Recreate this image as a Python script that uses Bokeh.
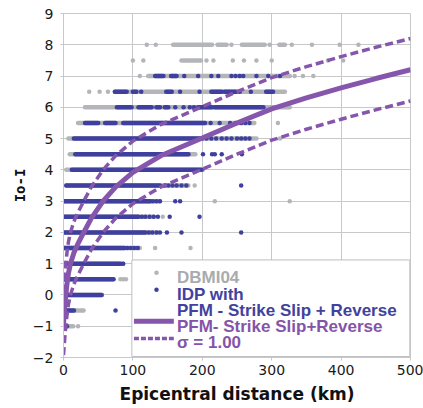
from bokeh.plotting import figure
from bokeh.models import Range1d, FixedTicker
from bokeh.core.properties import value
from bokeh.embed import file_html
from bokeh.resources import INLINE

# ---------------- data ----------------
# DBMI04 observations (grey): dense runs per intensity level + isolated points
gray_run_y  = [8, 8, 8, 8, 7.5, 7, 6.5, 6, 5.5, 5, 4.5, 4, 3.5, 3, 2.5, 2, 1.5, 1, 0.5, 0, -0.5, -1]
gray_run_x0 = [158, 222, 257, 311, 170, 122, 74, 31, 21, 7, 9, 4, 4, 0, 0, 0, 0, 0, 0, 0, 0, 0]
gray_run_x1 = [214, 235, 290, 319, 198, 326, 319, 326, 275, 275, 190, 201, 180, 139, 130, 135, 110, 86, 72, 55, 29, 14]

gray_pt_x = [120, 133, 242, 297, 329, 358, 398, 425,
             100, 115, 206, 216, 244, 260, 278, 300, 381, 403,
             110, 333, 345, 360,
             37, 52, 64,
             309,
             278, 312,
             189,
             218, 326,
             143,
             132, 183,
             82, 86, 90,
             21]
gray_pt_y = [8] * 8 + [7.5] * 10 + [7] * 4 + [6.5] * 3 + [5.5] + [5] * 2 + [3.5] + [3] * 2 + [2.5] + [1.5] * 2 + [0.5] * 3 + [-1]

# IDP with PFM (blue)
blue_run_y  = [7, 7, 6.5, 6.5, 6.5, 6.5, 6.5, 6.5, 6, 6, 6, 6, 6, 6, 5.5, 5.5, 5.5,
               5, 4.5, 4, 3.5, 3, 2.5, 2, 1.5, 1, 0.5, 0, -0.5]
blue_run_x0 = [132, 155, 74, 100, 148, 213, 232, 292, 77, 108, 134, 146, 194, 218, 31, 60, 86,
               15, 17, 12, 4, 0, 0, 0, 0, 0, 0, 0, 0]
blue_run_x1 = [144, 163, 91, 105, 156, 228, 249, 302, 98, 127, 139, 151, 214, 288, 50, 75, 204,
               200, 180, 199, 139, 125, 108, 118, 88, 82, 72, 55, 15]

blue_pt_x = [174, 194, 213, 223, 242, 248, 254, 259, 278, 295, 312,
             112, 168, 196, 254, 270,
             161, 173, 182, 188,
             212, 225, 240, 248, 256, 262, 268,
             206, 213, 220, 228, 235, 242, 250, 256, 262, 268,
             201, 214, 218, 228, 257,
             146, 151, 157, 163, 170, 177, 256,
             129, 134, 139, 161, 168,
             113, 118, 124, 130, 136, 153, 196,
             123, 128, 134, 139, 149, 170, 256,
             92, 97, 102, 107,
             86,
             75,
             2, 5]
blue_pt_y = ([7] * 11 + [6.5] * 5 + [6] * 4 + [5.5] * 7 + [5] * 10 + [4.5] * 5 + [3.5] * 7
             + [3] * 5 + [2.5] * 7 + [2] * 7 + [1.5] * 4 + [1] + [-0.5] + [-1] * 2)

# PFM - Strike Slip + Reverse attenuation curve and sigma
pfm_dist  = [0, 1, 2, 3, 5, 7, 10, 15, 20, 28, 40, 57, 75, 100, 140, 200, 250, 300, 350, 400, 450, 500]
pfm_value = [-0.92, -0.62, -0.33, -0.08, 0.35, 0.68, 1.0, 1.35, 1.6, 1.95, 2.45, 3.0, 3.45, 3.92,
             4.45, 5.02, 5.5, 5.95, 6.3, 6.62, 6.92, 7.2]
sigma = 1.00
pfm_upper = [v + sigma for v in pfm_value]
pfm_lower = [v - sigma for v in pfm_value]

x_ticks = [0, 100, 200, 300, 400, 500]
y_ticks = [-2, -1, 0, 1, 2, 3, 4, 5, 6, 7, 8, 9]

x_title = "Epicentral distance (km)"
y_title = "Io-I"
legend_labels = ["DBMI04", "IDP with", "PFM - Strike Slip + Reverse", "PFM- Strike Slip+Reverse", "\u03c3 = 1.00"]

# ---------------- styling ----------------
GRAY = "#b3b5b9"
BLUE = "#3f3f9f"
PURPLE = "#8656ac"
GRID = "#c6c8ca"

p = figure(width=423, height=408, output_backend="svg", toolbar_location=None,
           x_range=Range1d(0, 500), y_range=Range1d(-2, 9),
           min_border_left=63, min_border_right=13, min_border_top=13, min_border_bottom=51)
p.background_fill_color = "white"
p.border_fill_color = "white"
p.outline_line_color = GRID
p.outline_line_width = 1

p.xaxis.ticker = FixedTicker(ticks=x_ticks)
p.yaxis.ticker = FixedTicker(ticks=y_ticks)
for ax in (p.xaxis, p.yaxis):
    ax.axis_line_color = GRID
    ax.major_tick_line_color = GRID
    ax.major_tick_out = 3
    ax.major_tick_in = 0
    ax.minor_tick_line_color = None
    ax.major_label_text_font = "DejaVu Sans"
    ax.major_label_text_font_size = "14px"
    ax.major_label_text_color = "#1a1a1a"
p.xaxis.major_label_standoff = 4
p.yaxis.major_label_standoff = 7

p.xaxis.axis_label = x_title
p.xaxis.axis_label_text_font = "DejaVu Sans"
p.xaxis.axis_label_text_font_style = "bold"
p.xaxis.axis_label_text_font_size = "17px"
p.xaxis.axis_label_text_color = "#111111"
p.xaxis.axis_label_standoff = 6

p.yaxis.axis_label = y_title
p.yaxis.axis_label_text_font = "DejaVu Sans Mono"
p.yaxis.axis_label_text_font_style = "bold"
p.yaxis.axis_label_text_font_size = "14px"
p.yaxis.axis_label_text_color = "#111111"
p.yaxis.axis_label_standoff = 2

p.xgrid.ticker = FixedTicker(ticks=x_ticks)
p.ygrid.ticker = FixedTicker(ticks=y_ticks)
p.grid.grid_line_color = GRID
p.grid.grid_line_width = 1

DOT = 4.5

# data
p.segment(x0=gray_run_x0, y0=gray_run_y, x1=gray_run_x1, y1=gray_run_y,
          line_color=GRAY, line_width=DOT, line_cap="round")
p.scatter(gray_pt_x, gray_pt_y, size=DOT, fill_color=GRAY, line_color=None)
p.segment(x0=blue_run_x0, y0=blue_run_y, x1=blue_run_x1, y1=blue_run_y,
          line_color=BLUE, line_width=DOT, line_cap="round")
p.scatter(blue_pt_x, blue_pt_y, size=DOT, fill_color=BLUE, line_color=None)

p.line(pfm_dist, pfm_upper, line_color=PURPLE, line_width=3.5, line_dash="8 4")
p.line(pfm_dist, pfm_lower, line_color=PURPLE, line_width=3.5, line_dash="8 4")
p.line(pfm_dist, pfm_value, line_color=PURPLE, line_width=5)

# legend (manual, in data units)
p.quad(left=[98.5], right=[499], top=[1.12], bottom=[-1.97],
       fill_color="white", line_color="#bcbec0", line_width=1)
p.scatter([134], [0.71], size=DOT, fill_color=GRAY, line_color=None)
p.scatter([134], [0.17], size=DOT, fill_color=BLUE, line_color=None)
p.line([101.5, 159], [-0.84, -0.84], line_color=PURPLE, line_width=5)
p.line([101.5, 159], [-1.39, -1.39], line_color=PURPLE, line_width=3.5, line_dash="5 2")

text_x = 163.5
text_y = [0.548, 0.014, -0.498, -1.02, -1.53]
text_colors = ["#a9abae", "#42429e", "#42429e", "#8454aa", "#8454aa"]
for lab, ty, col in zip(legend_labels, text_y, text_colors):
    p.text(x=[text_x], y=[ty], text=[lab], text_font=value("Liberation Sans"),
           text_font_style="bold", text_font_size="17px", text_color=col,
           text_baseline="alphabetic", text_align="left")

open("out.html", "w").write(file_html(p, INLINE))
